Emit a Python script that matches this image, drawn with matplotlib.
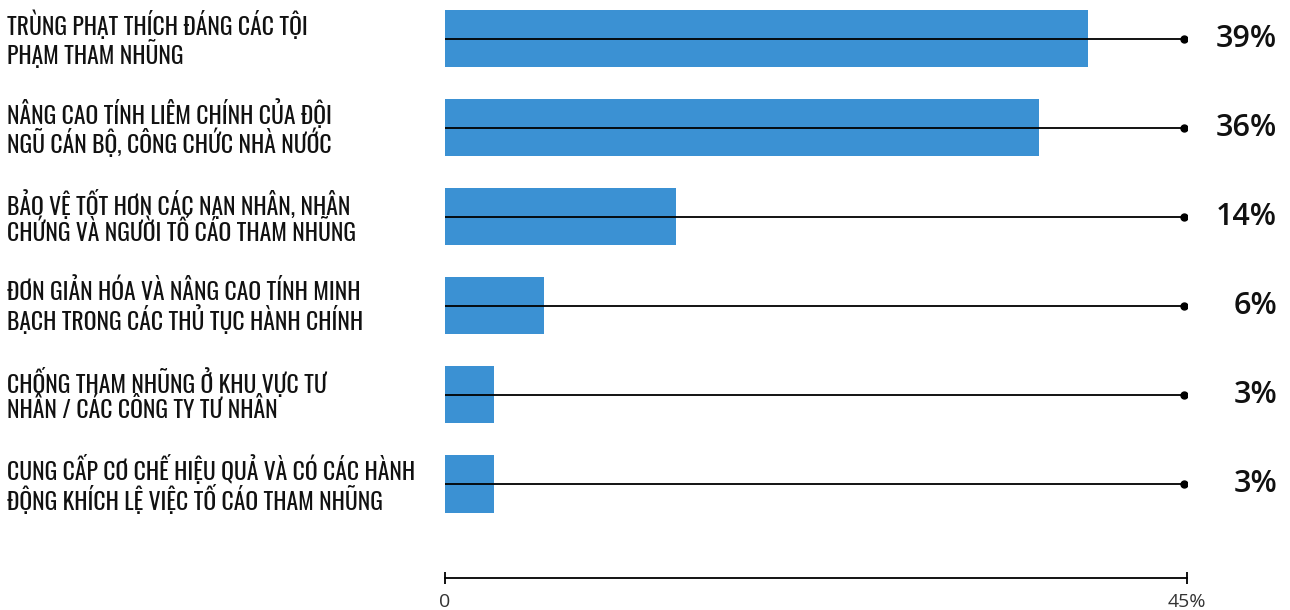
import matplotlib
matplotlib.use("Agg")
import matplotlib.pyplot as plt

# survey answers, top to bottom
labels = [
    "TRÙNG PHẠT THÍCH ĐÁNG CÁC TỘI\nPHẠM THAM NHŨNG",
    "NÂNG CAO TÍNH LIÊM CHÍNH CỦA ĐỘI\nNGŨ CÁN BỘ, CÔNG CHỨC NHÀ NƯỚC",
    "BẢO VỆ TỐT HƠN CÁC NẠN NHÂN, NHÂN\nCHỨNG VÀ NGƯỜI TỐ CÁO THAM NHŨNG",
    "ĐƠN GIẢN HÓA VÀ NÂNG CAO TÍNH MINH\nBẠCH TRONG CÁC THỦ TỤC HÀNH CHÍNH",
    "CHỐNG THAM NHŨNG Ở KHU VỰC TƯ\nNHÂN / CÁC CÔNG TY TƯ NHÂN",
    "CUNG CẤP CƠ CHẾ HIỆU QUẢ VÀ CÓ CÁC HÀNH\nĐỘNG KHÍCH LỆ VIỆC TỐ CÁO THAM NHŨNG",
]
values = [39, 36, 14, 6, 3, 3]
xmax = 45
tick_labels = ["0", "45%"]

bar_color = "#3b91d3"
label_font = ["Oswald", "Roboto Condensed", "DejaVu Sans"]
num_font = ["Open Sans", "DejaVu Sans"]

fig = plt.figure(figsize=(12.9, 6.1), dpi=100)
W, H = 1290, 610
ax = fig.add_axes([445 / W, (H - 578) / H, (1187 - 445) / W, (578 - 10) / H])

ys = list(range(len(values)))
ax.barh(ys, values, height=0.64, color=bar_color, zorder=1)

# leader line with dot out to the value column
line_end = 44.8
for y in ys:
    ax.plot([0, line_end], [y, y], color="black", lw=1.3, zorder=2, solid_capstyle="butt")
    ax.plot([line_end], [y], "o", color="black", ms=5, zorder=3)

ax.set_xlim(0, xmax)
ax.set_ylim(6.055, -0.32)

tr = ax.get_yaxis_transform()
for y, lab, v in zip(ys, labels, values):
    ax.text(-0.590, y, lab, transform=tr, ha="left", va="center",
            fontsize=17, family=label_font, color="#111111", linespacing=1.0)
    ax.text(1.1213, y, "%d%%" % v, transform=tr, ha="right", va="center",
            fontsize=22, family=num_font, weight="semibold", color="#111111")

for s in ["top", "right", "left"]:
    ax.spines[s].set_visible(False)
ax.spines["bottom"].set_linewidth(1.3)
ax.set_yticks([])
ax.set_xticks([0, xmax])
ax.set_xticklabels(tick_labels, family=num_font, fontsize=14, color="#333333")
ax.tick_params(axis="x", direction="inout", length=8, width=1.3, pad=7)

fig.savefig("out.png", dpi=100)
